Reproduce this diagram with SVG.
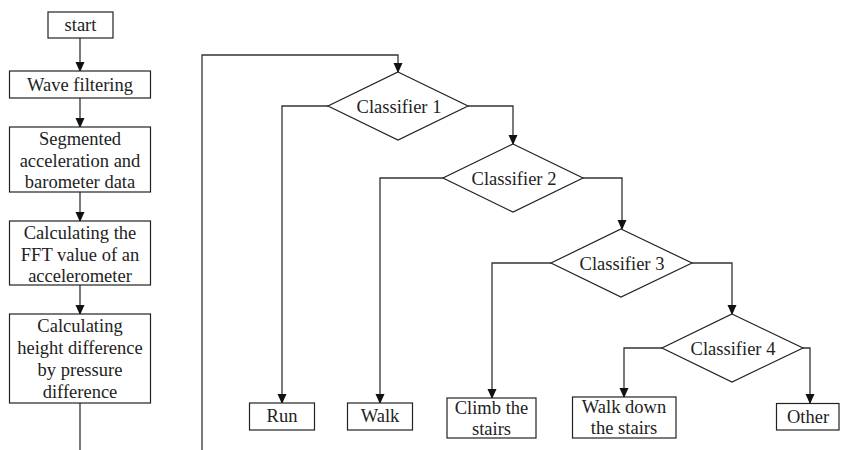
<svg xmlns="http://www.w3.org/2000/svg" width="841" height="450" viewBox="0 0 841 450">
<style>
.box{fill:#fff;stroke:#222;stroke-width:1.2}
.ln{fill:none;stroke:#333;stroke-width:1.3}
.t text{font-size:18.5px;fill:#222;text-anchor:middle}
</style>
<defs>
<marker id="ah" markerWidth="10" markerHeight="10" refX="9" refY="4.5" orient="auto" markerUnits="userSpaceOnUse">
<path d="M0,0 L10,4.5 L0,9 Z" fill="#111"/>
</marker>
</defs>
<rect width="841" height="450" fill="#fff"/>
<g id="connectors">
<path class="ln" d="M80,38 V71" marker-end="url(#ah)"/>
<path class="ln" d="M80,98 V127" marker-end="url(#ah)"/>
<path class="ln" d="M80,192 V221" marker-end="url(#ah)"/>
<path class="ln" d="M80,285 V314" marker-end="url(#ah)"/>
<path class="ln" d="M80,403 V450"/>
<path class="ln" d="M202,450 V55 H398 V72" marker-end="url(#ah)"/>
<path class="ln" d="M328,106 H282 V403" marker-end="url(#ah)"/>
<path class="ln" d="M468,106 H513 V144" marker-end="url(#ah)"/>
<path class="ln" d="M443,178 H380 V403" marker-end="url(#ah)"/>
<path class="ln" d="M583,178 H622 V229" marker-end="url(#ah)"/>
<path class="ln" d="M551,263 H492 V398" marker-end="url(#ah)"/>
<path class="ln" d="M692,263 H732 V314" marker-end="url(#ah)"/>
<path class="ln" d="M662,348 H624 V397" marker-end="url(#ah)"/>
<path class="ln" d="M803,348 H810 V403" marker-end="url(#ah)"/>
</g>
<g class="t" font-family="Liberation Serif, Times New Roman, serif">
<g id="start"><rect class="box" x="48" y="12" width="65" height="26"/><text x="80.5" y="31">start</text></g>
<g id="wave"><rect class="box" x="9.5" y="71" width="141" height="27"/><text x="80" y="90.5">Wave filtering</text></g>
<g id="segmented"><rect class="box" x="9.5" y="127" width="141" height="65"/><text x="80" y="145">Segmented</text><text x="80" y="167">acceleration and</text><text x="80" y="188">barometer data</text></g>
<g id="fft"><rect class="box" x="9.5" y="221" width="141" height="64"/><text x="80" y="239">Calculating the</text><text x="80" y="261">FFT value of an</text><text x="80" y="282">accelerometer</text></g>
<g id="height"><rect class="box" x="9.5" y="314" width="141" height="89"/><text x="80" y="332">Calculating</text><text x="80" y="354">height difference</text><text x="80" y="376">by pressure</text><text x="80" y="398">difference</text></g>
<g id="c1"><polygon class="box" points="398,72 468,106 398,140 328,106"/><text x="399" y="112.5">Classifier 1</text></g>
<g id="c2"><polygon class="box" points="513,144 583,178 513,212 443,178"/><text x="514" y="184.5">Classifier 2</text></g>
<g id="c3"><polygon class="box" points="621,229 692,263 621,297 551,263"/><text x="622" y="269.5">Classifier 3</text></g>
<g id="c4"><polygon class="box" points="732,314 803,348 732,382 662,348"/><text x="733" y="354.5">Classifier 4</text></g>
<g id="run"><rect class="box" x="249.5" y="403" width="65" height="27"/><text x="282" y="422">Run</text></g>
<g id="walk"><rect class="box" x="347.5" y="403" width="65" height="27"/><text x="380" y="422">Walk</text></g>
<g id="climb"><rect class="box" x="447" y="398" width="89" height="40"/><text x="491.5" y="414">Climb the</text><text x="491.5" y="435">stairs</text></g>
<g id="walkdown"><rect class="box" x="572.5" y="397" width="103.5" height="41"/><text x="624" y="413">Walk down</text><text x="624" y="434">the stairs</text></g>
<g id="other"><rect class="box" x="776.5" y="403.5" width="62.5" height="26.5"/><text x="808" y="422.5">Other</text></g>
</g>
</svg>
